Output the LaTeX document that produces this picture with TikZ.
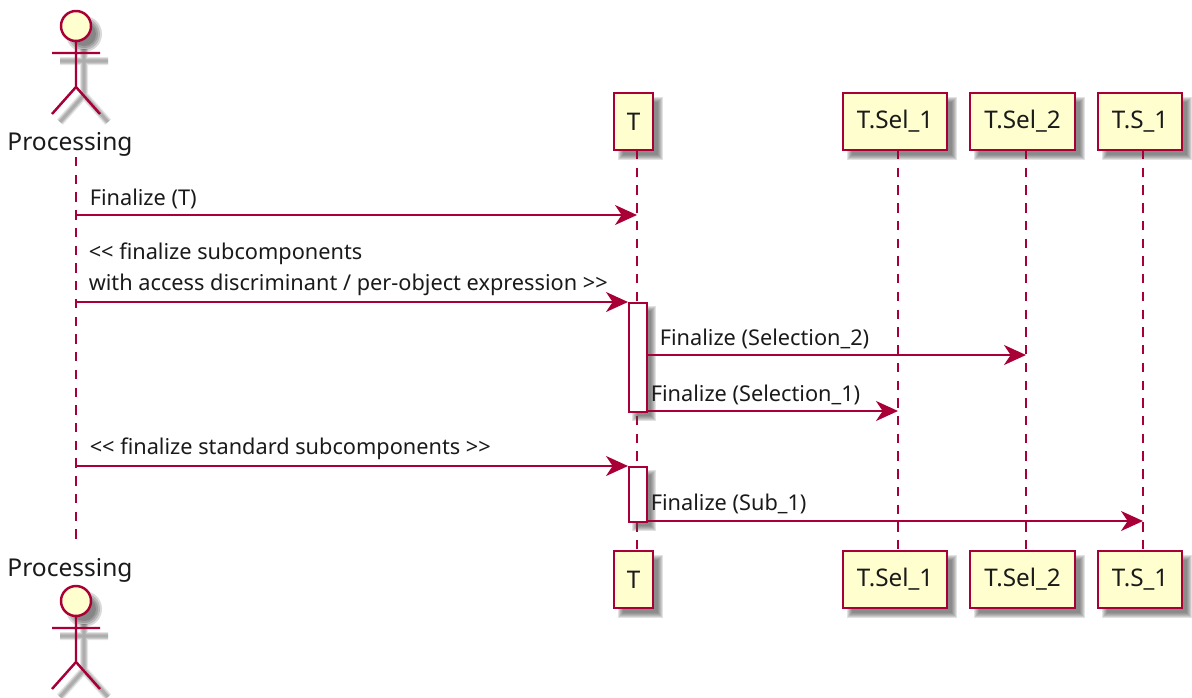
\documentclass[tikz,border=0pt]{standalone}
\usepackage{fontspec}
\setmainfont{Noto Sans}
\usetikzlibrary{arrows.meta,calc}
\definecolor{pumlred}{HTML}{A80036}
\definecolor{pumlfill}{HTML}{FEFECE}
\definecolor{pumltext}{HTML}{1A1A1A}
\tikzset{
  x=0.75pt,y=-0.75pt,
  pbox/.style={draw=pumlred,fill=pumlfill,line width=1.85pt,minimum height=42.75pt,inner sep=0pt,text=pumltext,font=\fontsize{18.2}{20}\selectfont},
  life/.style={draw=pumlred,line width=1.35pt,dash pattern=on 7pt off 6.3pt},
  msg/.style={draw=pumlred,line width=1.45pt,-{Stealth[length=16.5pt,width=15pt,inset=5pt]}},
  lab/.style={anchor=base west,inner sep=0pt,text=pumltext,font=\fontsize{16.3}{18}\selectfont},
  actlab/.style={anchor=base,inner sep=0pt,text=pumltext,font=\fontsize{18.4}{20}\selectfont},
  limb/.style={draw=pumlred,line width=1.85pt},
  headc/.style={draw=pumlred,fill=pumlfill,line width=1.85pt},
  actbox/.style={draw=pumlred,fill=white,line width=1.45pt},
}
\newcommand{\softrect}[4]{%
  \foreach \e in {3,2,1,0,-1,-2}{
    \fill[black!70,opacity=.16] ({#1+7-\e},{#2+7-\e}) rectangle ({#3+7+\e},{#4+7+\e});
  }}
\newcommand{\stickman}[2]{%
  \begin{scope}[shift={(#1,#2)}]
    \foreach \w/\o in {6/.10,4.2/.12,2.4/.14}{
      \draw[black,opacity=\o,line width=\w pt] (8,23) -- (8,69) (-16,35) -- (32,35) (-16,96) -- (8,69) -- (32,96);
    }
    \foreach \r in {18,16,14,12}{\fill[black,opacity=.15] (8,8) circle[radius=\r];}
    \draw[limb] (0,15) -- (0,61) (-24,27) -- (24,27) (-24,88) -- (0,61) -- (24,88);
    \draw[headc] (0,0) circle[radius=15];
  \end{scope}}
\begin{document}
\begin{tikzpicture}
\useasboundingbox (0,0) rectangle (1192,697);
% shadows of boxes
\softrect{614}{93}{653}{150}\softrect{843}{93}{947}{150}\softrect{970}{93}{1075}{150}\softrect{1098}{93}{1182}{150}
\softrect{614}{551}{653}{608}\softrect{843}{551}{947}{608}\softrect{970}{551}{1075}{608}\softrect{1098}{551}{1182}{608}
% actors
\stickman{76}{26}
\stickman{76}{601}
\node[actlab] (pt) at (70,150.5) {Processing};
\node[actlab] (pb) at (70,576) {Processing};
\coordinate (ptl) at (76,157);
\coordinate (pbl) at (76,547);
% participants
\node[pbox,minimum width=29.25pt] (Tt) at (633.5,121.5) {T};
\node[pbox,minimum width=78pt] (S1t) at (895,121.5) {T.Sel\_1};
\node[pbox,minimum width=78.75pt] (S2t) at (1022.5,121.5) {T.Sel\_2};
\node[pbox,minimum width=63pt] (Sbt) at (1140,121.5) {T.S\_1};
\node[pbox,minimum width=29.25pt] (Tb) at (633.5,579.5) {T};
\node[pbox,minimum width=78pt] (S1b) at (895,579.5) {T.Sel\_1};
\node[pbox,minimum width=78.75pt] (S2b) at (1022.5,579.5) {T.Sel\_2};
\node[pbox,minimum width=63pt] (Sbb) at (1140,579.5) {T.S\_1};
% lifeline anchors
\coordinate (lTt) at (637,150); \coordinate (lTb) at (637,551);
\coordinate (l1t) at (898,150); \coordinate (l1b) at (898,551);
\coordinate (l2t) at (1026,150); \coordinate (l2b) at (1026,551);
\coordinate (l3t) at (1143,150); \coordinate (l3b) at (1143,551);
\draw[life] (ptl) -- (pbl);
\draw[life] (lTt) -- (lTb);
\draw[life] (l1t) -- (l1b);
\draw[life] (l2t) -- (l2b);
\draw[life] (l3t) -- (l3b);
% activations
\softrect{628}{302}{646}{411}
\softrect{628}{466}{646}{521}
\node[actbox,minimum width=13.5pt,minimum height=81.75pt,inner sep=0pt,anchor=north west] (A1) at (628,302) {};
\node[actbox,minimum width=13.5pt,minimum height=41.25pt,inner sep=0pt,anchor=north west] (A2) at (628,466) {};
% message ends
\coordinate (m1a) at (76,215); \coordinate (m1b) at (637,215);
\coordinate (m2a) at (76,302); \coordinate (m2b) at (A1.north west);
\coordinate (m3a) at (646,355); \coordinate (m3b) at (1026,355);
\coordinate (m4a) at (646,411); \coordinate (m4b) at (898,411);
\coordinate (m5a) at (76,466); \coordinate (m5b) at (A2.north west);
\coordinate (m6a) at (646,521); \coordinate (m6b) at (1143,521);
\draw[msg] (m1a) -- (m1b);
\draw[msg] (m2a) -- (m2b);
\draw[msg] (m3a) -- (m3b);
\draw[msg] (m4a) -- (m4b);
\draw[msg] (m5a) -- (m5b);
\draw[msg] (m6a) -- (m6b);
% labels
\node[lab] (t1) at (89.5,205.5) {Finalize (T)};
\node[lab] (t2) at (88.5,259.5) {<{}< finalize subcomponents};
\node[lab] (t3) at (88.5,290.5) {with access discriminant / per-object expression >{}>};
\node[lab] (t4) at (659.5,345.5) {Finalize (Selection\_2)};
\node[lab] (t5) at (650.5,401) {Finalize (Selection\_1)};
\node[lab] (t6) at (89.5,454.5) {<{}< finalize standard subcomponents >{}>};
\node[lab] (t7) at (650.5,510.5) {Finalize (Sub\_1)};
\end{tikzpicture}
\end{document}
